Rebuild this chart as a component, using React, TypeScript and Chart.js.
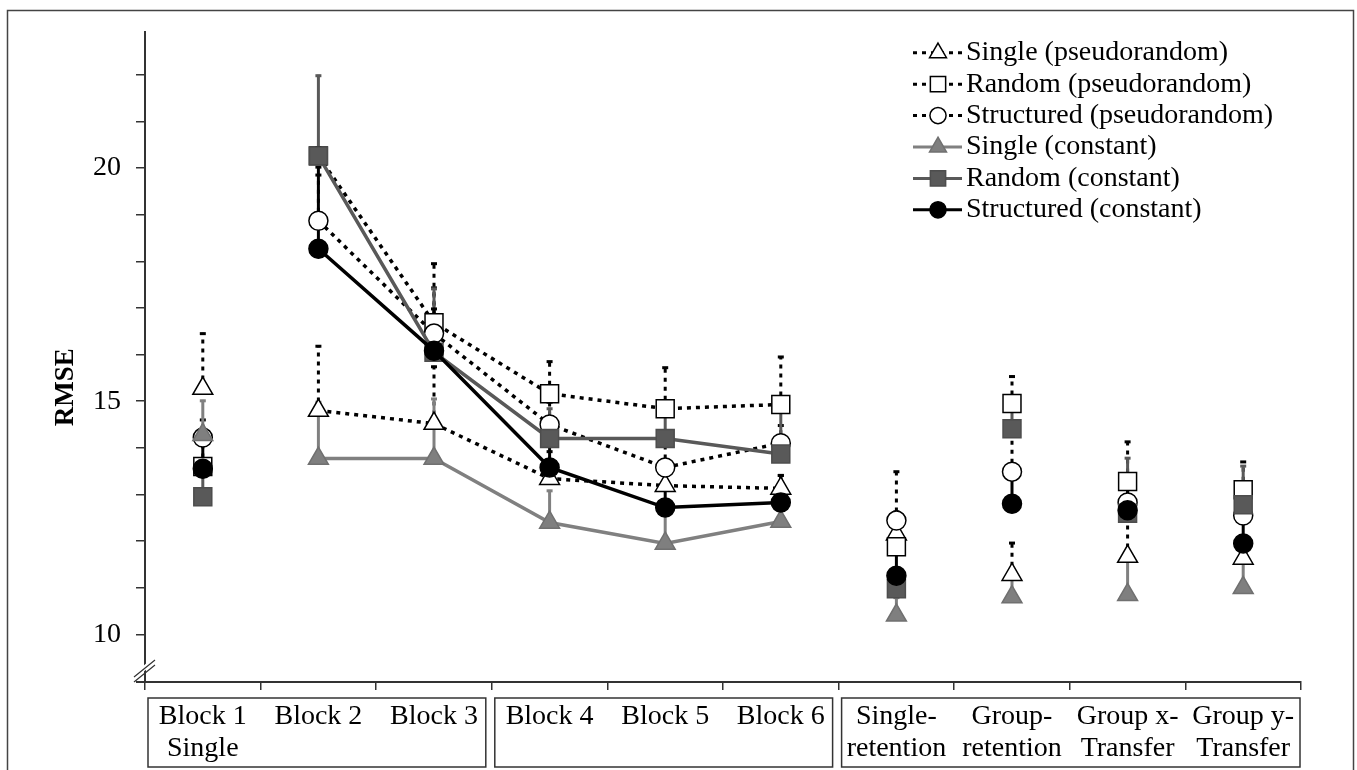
import { useEffect, useRef } from "react";
import { Chart, registerables } from "chart.js";
import { drawPoint } from "chart.js/helpers";

Chart.register(...registerables);

const FONT = '"Liberation Serif", "Times New Roman", serif';

// category labels (two lines each, drawn inside the group boxes)
const labelLine1 = ["Block 1", "Block 2", "Block 3", "Block 4", "Block 5", "Block 6", "Single-", "Group-", "Group x-", "Group y-"];
const labelLine2 = ["Single", "", "", "", "", "", "retention", "retention", "Transfer", "Transfer"];
const groupRanges = [[0, 2], [3, 5], [6, 9]];

const yTicks = [10, 11, 12, 13, 14, 15, 16, 17, 18, 19, 20, 21, 22];
const yLabelled = [10, 15, 20];

const seriesNames = [
  "Single (pseudorandom)",
  "Random (pseudorandom)",
  "Structured (pseudorandom)",
  "Single (constant)",
  "Random (constant)",
  "Structured (constant)",
];

const singlePseudo = [15.27, 14.8, 14.52, 13.34, 13.19, 13.13, 12.15, 11.28, 11.67, 11.63];
const randomPseudo = [13.6, 20.26, 16.68, 15.16, 14.84, 14.93, 11.88, 14.95, 13.28, 13.1];
const structuredPseudo = [14.22, 18.87, 16.45, 14.5, 13.58, 14.1, 12.44, 13.49, 12.83, 12.55];
const singleConst = [14.28, 13.77, 13.77, 12.4, 11.95, 12.42, 10.41, 10.8, 10.85, 11.0];
const randomConst = [12.95, 20.26, 16.05, 14.2, 14.2, 13.87, 10.98, 14.41, 12.6, 12.78];
const structuredConst = [13.55, 18.27, 16.08, 13.58, 12.72, 12.83, 11.26, 12.8, 12.66, 11.95];

// upper error bars
const singlePseudoErr = [1.2, 1.4, 1.24, 0.6, 0.4, 0.3, 0.5, 0.7, 1.1, 0.4];
const randomPseudoErr = [0.5, 0.2, 1.29, 0.71, 0.9, 1.04, 0.5, 0.6, 0.87, 0.62];
const structuredPseudoErr = [0.4, 1.0, 1.0, 0.5, 0.5, 0.4, 1.07, 0.8, 0.5, 0.3];
const singleConstErr = [0.75, 1.23, 1.3, 0.7, 0.75, 0.4, 0.4, 0.4, 0.8, 0.6];
const randomConstErr = [0.6, 1.74, 1.38, 0.66, 0.6, 1.0, 0.4, 0.5, 1.2, 0.85];
const structuredConstErr = [0.55, 1.77, 0.92, 1.0, 0.4, 0.6, 0.6, 0.7, 0.6, 0.6];

const seriesValues = [singlePseudo, randomPseudo, structuredPseudo, singleConst, randomConst, structuredConst];
const seriesErrors = [singlePseudoErr, randomPseudoErr, structuredPseudoErr, singleConstErr, randomConstErr, structuredConstErr];

const DOT = [4, 5];
const styles = [
  { dotted: true, line: "#000", shape: "triangle", r: 11.5, fill: "#fff", edge: "#000" },
  { dotted: true, line: "#000", shape: "rect", r: 12.7, fill: "#fff", edge: "#000" },
  { dotted: true, line: "#000", shape: "circle", r: 9.5, fill: "#fff", edge: "#000" },
  { dotted: false, line: "#808080", shape: "triangle", r: 11.5, fill: "#7f7f7f", edge: "#707070" },
  { dotted: false, line: "#595959", shape: "rect", r: 12.7, fill: "#595959", edge: "#4d4d4d" },
  { dotted: false, line: "#000", shape: "circle", r: 9.5, fill: "#000", edge: "#000" },
];

// lines only join Block 2 .. Block 6
const hideSegment = (c: any) => (c.p0DataIndex < 1 || c.p1DataIndex > 5 ? "rgba(0,0,0,0)" : undefined);

const errorBars = {
  id: "errorBars",
  beforeDatasetsDraw(chart: any) {
    const { ctx } = chart;
    const y = chart.scales.y;
    for (let i = 0; i < seriesValues.length; i++) {
      const meta = chart.getDatasetMeta(i);
      const st = styles[i];
      ctx.save();
      ctx.strokeStyle = st.line;
      ctx.lineWidth = 3;
      meta.data.forEach((pt: any, j: number) => {
        const top = y.getPixelForValue(seriesValues[i][j] + seriesErrors[i][j]);
        ctx.setLineDash(st.dotted ? DOT : []);
        ctx.beginPath();
        ctx.moveTo(pt.x, pt.y);
        ctx.lineTo(pt.x, top);
        ctx.stroke();
        ctx.setLineDash([]);
        ctx.beginPath();
        ctx.moveTo(pt.x - 3, top + 1);
        ctx.lineTo(pt.x + 3, top + 1);
        ctx.stroke();
      });
      ctx.restore();
    }
  },
};

const decorations = {
  id: "decorations",
  afterDraw(chart: any) {
    const { ctx, chartArea } = chart;
    const x = chart.scales.x;
    const y = chart.scales.y;
    ctx.save();

    // outer frame
    ctx.strokeStyle = "#444";
    ctx.lineWidth = 1.5;
    ctx.strokeRect(7.5, 10.5, 1346, 800);

    // x axis stub left of the y axis
    ctx.strokeStyle = "#333";
    ctx.lineWidth = 2;
    ctx.beginPath();
    ctx.moveTo(chartArea.left - 9, chartArea.bottom);
    ctx.lineTo(chartArea.left, chartArea.bottom);
    ctx.stroke();

    // axis break
    const by = chartArea.bottom - 14;
    const bx = chartArea.left;
    ctx.fillStyle = "#fff";
    ctx.beginPath();
    ctx.moveTo(bx - 4, by + 6);
    ctx.lineTo(bx + 4, by - 1);
    ctx.lineTo(bx + 4, by - 7);
    ctx.lineTo(bx - 4, by + 0);
    ctx.closePath();
    ctx.fill();
    ctx.lineWidth = 1.2;
    ctx.beginPath();
    ctx.moveTo(bx - 11, by + 9);
    ctx.lineTo(bx + 10, by - 8);
    ctx.moveTo(bx - 11, by + 14);
    ctx.lineTo(bx + 10, by - 3);
    ctx.stroke();

    // y axis title
    ctx.fillStyle = "#000";
    ctx.font = `bold 27px ${FONT}`;
    ctx.textAlign = "center";
    ctx.textBaseline = "middle";
    ctx.translate(66, y.getPixelForValue(15.3));
    ctx.rotate(-Math.PI / 2);
    ctx.fillText("RMSE", 0, 0);
    ctx.restore();

    // group boxes with category labels
    ctx.save();
    const half = (x.getPixelForValue(1) - x.getPixelForValue(0)) / 2;
    ctx.strokeStyle = "#333";
    ctx.lineWidth = 1.5;
    groupRanges.forEach(([a, b], gi) => {
      const l = x.getPixelForValue(a) - half + 3;
      const r = x.getPixelForValue(b) + half - (gi === groupRanges.length - 1 ? 1 : 6);
      ctx.strokeRect(l, x.top + 16, r - l, 69);
    });
    ctx.fillStyle = "#000";
    ctx.font = `28px ${FONT}`;
    ctx.textAlign = "center";
    ctx.textBaseline = "middle";
    labelLine1.forEach((t, i) => {
      const cx = x.getPixelForValue(i);
      ctx.fillText(t, cx, x.top + 35);
      if (labelLine2[i]) ctx.fillText(labelLine2[i], cx, x.top + 67);
    });

    // legend
    const lx = chartArea.right - 388;
    const ly = chartArea.top + 21;
    seriesNames.forEach((name, i) => {
      const st = styles[i];
      const yy = ly + i * 31.4;
      ctx.strokeStyle = st.line;
      ctx.lineWidth = 3;
      ctx.setLineDash(st.dotted ? DOT : []);
      ctx.beginPath();
      ctx.moveTo(lx, yy);
      ctx.lineTo(lx + 49, yy);
      ctx.stroke();
      ctx.setLineDash([]);
      ctx.fillStyle = st.fill;
      ctx.strokeStyle = st.edge;
      ctx.lineWidth = 1.5;
      drawPoint(ctx, { pointStyle: st.shape, rotation: 0, radius: st.r * 0.85, borderWidth: 1.5 } as any, lx + 25, yy);
      ctx.fillStyle = "#000";
      ctx.font = `28px ${FONT}`;
      ctx.textAlign = "left";
      ctx.fillText(name, lx + 53, yy);
    });
    ctx.restore();
  },
};

export default function App() {
  const canvasRef = useRef<HTMLCanvasElement>(null);
  const chartRef = useRef<Chart | null>(null);

  useEffect(() => {
    if (!canvasRef.current) return;
    if (chartRef.current) chartRef.current.destroy();

    const datasets = seriesValues.map((vals, i) => {
      const st = styles[i];
      return {
        label: seriesNames[i],
        data: vals,
        order: seriesValues.length - 1 - i,
        borderColor: st.line,
        borderWidth: 3.5,
        borderDash: st.dotted ? DOT : [],
        pointStyle: st.shape,
        pointRadius: st.r,
        pointBackgroundColor: st.fill,
        pointBorderColor: st.edge,
        pointBorderWidth: 1.5,
        tension: 0,
        fill: false,
        segment: { borderColor: hideSegment },
      };
    });

    chartRef.current = new Chart(canvasRef.current, {
      type: "line",
      data: { labels: labelLine1, datasets: datasets as any },
      plugins: [errorBars, decorations],
      options: {
        animation: false,
        responsive: true,
        maintainAspectRatio: false,
        events: [],
        layout: { padding: { top: 30, right: 56, left: 0, bottom: 0 } },
        plugins: { legend: { display: false }, tooltip: { enabled: false } },
        scales: {
          x: {
            type: "category",
            offset: true,
            grid: { offset: true, drawOnChartArea: false, drawTicks: true, tickLength: 8, color: "#333", lineWidth: 1.5 },
            border: { display: true, color: "#333", width: 2 },
            ticks: { display: false },
            afterFit: (s: any) => {
              s.height = 88;
            },
          },
          y: {
            type: "linear",
            min: 8.98,
            max: 22.92,
            afterBuildTicks: (s: any) => {
              s.ticks = yTicks.map((v) => ({ value: v }));
            },
            ticks: {
              callback: (v: any) => (yLabelled.includes(Number(v)) ? String(v) : ""),
              color: "#000",
              padding: 15,
              font: { family: FONT, size: 28 },
            },
            grid: { drawOnChartArea: false, drawTicks: true, tickLength: 9, color: "#333", lineWidth: 1.5 },
            border: { display: true, color: "#333", width: 2 },
            afterFit: (s: any) => {
              s.width = 145;
            },
          },
        },
      } as any,
    });

    return () => {
      if (chartRef.current) {
        chartRef.current.destroy();
        chartRef.current = null;
      }
    };
  }, []);

  return (
    <div style={{ position: "fixed", left: 0, top: 0, width: 1357, height: 770, background: "#fff" }}>
      <canvas ref={canvasRef} />
    </div>
  );
}
